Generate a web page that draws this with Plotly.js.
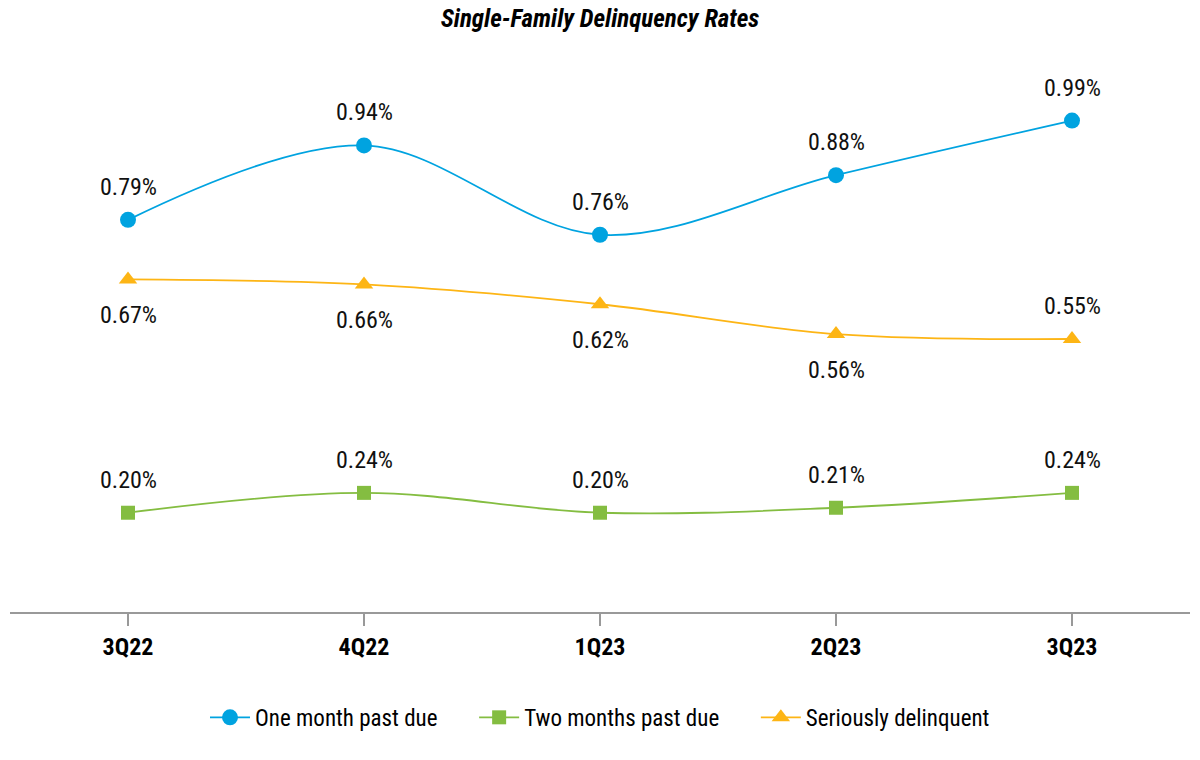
<!DOCTYPE html>
<html>
<head>
<meta charset="utf-8">
<script src="https://cdn.plot.ly/plotly-3.0.1.min.js"></script>
<style>html,body{margin:0;padding:0;background:#fff;}#chart{width:1200px;height:760px;}</style>
</head>
<body>
<div id="chart"></div>
<script>
const quarters = ["3Q22", "4Q22", "1Q23", "2Q23", "3Q23"];
const oneMonth = [0.79, 0.94, 0.76, 0.88, 0.99];
const twoMonths = [0.20, 0.24, 0.20, 0.21, 0.24];
const serious = [0.67, 0.66, 0.62, 0.56, 0.55];
const seriousLabelAbove = [false, false, false, false, true];
const seriesNames = ["One month past due", "Two months past due", "Seriously delinquent"];

const FONT = "'Liberation Sans Narrow', 'Arial Narrow', 'Roboto Condensed', Roboto, sans-serif";
const C_BLUE = "#00A3E0", C_GREEN = "#84BD41", C_ORANGE = "#FDB515";
const PAD = "\u00a0\u00a0\u00a0\u00a0\u00a0\u00a0";

function series(name, y, color, symbol, size, pad) {
  return {
    x: quarters, y: y, name: name + pad, type: "scatter", mode: "lines+markers",
    line: {color: color, width: 1.8, shape: "spline", smoothing: 1},
    marker: {color: color, symbol: symbol, size: size},
    hoverinfo: "skip"
  };
}
const traces = [
  series(seriesNames[0], oneMonth, C_BLUE, "circle", 16, PAD),
  series(seriesNames[1], twoMonths, C_GREEN, "square", 14, PAD),
  series(seriesNames[2], serious, C_ORANGE, "triangle-up", 16, "")
];

const annotations = [];
function addLabels(y, aboveArr) {
  y.forEach((v, i) => {
    const above = aboveArr[i];
    annotations.push({
      x: quarters[i], y: v, xref: "x", yref: "y",
      text: v.toFixed(2) + "%", showarrow: false,
      yshift: above ? 33 : -36,
      font: {family: FONT, size: 24, color: "#111"}
    });
  });
}
addLabels(oneMonth, oneMonth.map(() => true));
addLabels(twoMonths, twoMonths.map(() => true));
addLabels(serious, seriousLabelAbove);

const layout = {
  width: 1200, height: 760,
  paper_bgcolor: "#fff", plot_bgcolor: "#fff",
  margin: {l: 10, r: 10, t: 66, b: 148},
  title: {text: "<b><i>Single-Family Delinquency Rates</i></b>", x: 0.5, xanchor: "center", y: 0.976, yanchor: "middle",
          font: {family: FONT, size: 25, color: "#000"}},
  font: {family: FONT, color: "#111"},
  xaxis: {
    type: "category", range: [-0.5, 4.5], showgrid: false, zeroline: false,
    showline: true, linecolor: "#999", linewidth: 2,
    ticks: "outside", ticklen: 12, tickcolor: "#999", tickwidth: 2,
    tickfont: {family: FONT, size: 24, color: "#000"},
    tickprefix: "<b>", ticksuffix: "</b>"
  },
  yaxis: {range: [0, 1.1], visible: false, showgrid: false, zeroline: false, fixedrange: true},
  showlegend: true,
  legend: {orientation: "h", x: 0.5, xanchor: "center", y: -0.193, yanchor: "middle",
           font: {family: FONT, size: 23, color: "#000"}, itemwidth: 40, tracegroupgap: 0},
  annotations: annotations
};

Plotly.newPlot("chart", traces, layout, {displayModeBar: false, staticPlot: true});
</script>
</body>
</html>
